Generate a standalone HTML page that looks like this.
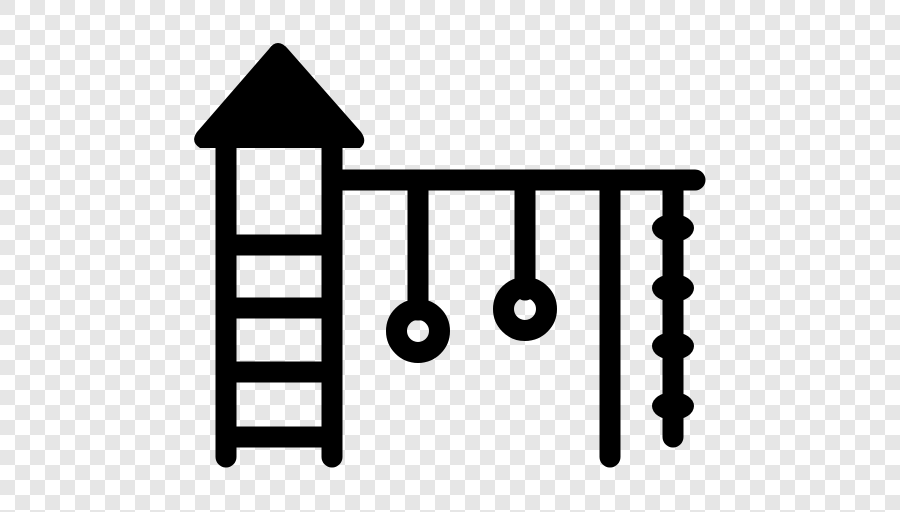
<!DOCTYPE html>
<html><head><meta charset="utf-8"><style>
html,body{margin:0;padding:0;width:900px;height:512px;overflow:hidden}
body{background-color:#fff;background-image:
linear-gradient(45deg,#e6e6e6 25%,transparent 25%,transparent 75%,#e6e6e6 75%),
linear-gradient(45deg,#e6e6e6 25%,transparent 25%,transparent 75%,#e6e6e6 75%);
background-size:30px 30px;background-position:15px 0,0 15px}
</style></head><body>
<svg width="900" height="512" viewBox="0 0 900 512" style="position:absolute;left:0;top:0">
<g stroke="#000" stroke-width="21" stroke-linecap="round" fill="none">
<line x1="226" y1="140" x2="226" y2="457"/>
<line x1="332" y1="140" x2="332" y2="457"/>
<line x1="332" y1="180" x2="695" y2="180"/>
<line x1="418" y1="180" x2="418" y2="310"/>
<line x1="525" y1="180" x2="525" y2="290"/>
<line x1="610" y1="180" x2="610" y2="457"/>
<line x1="673" y1="180" x2="673" y2="437"/>
</g>
<g stroke="#000" stroke-width="21" stroke-linecap="butt">
<line x1="226" y1="245" x2="332" y2="245"/>
<line x1="226" y1="308" x2="332" y2="308"/>
<line x1="226" y1="372" x2="332" y2="372"/>
<line x1="226" y1="437" x2="332" y2="437"/>
</g>
<path d="M278 43 Q283 43 288 49 L361 132 Q368 142 360 148 L200 148 Q190 142 197 132 L269 49 Q273 43 278 43 Z" fill="#000"/>
<circle cx="418" cy="331" r="21.5" fill="none" stroke="#000" stroke-width="21"/>
<circle cx="525" cy="309" r="21.5" fill="none" stroke="#000" stroke-width="21"/>
<g fill="#000">
<ellipse cx="673" cy="228" rx="21" ry="14"/>
<ellipse cx="673" cy="288" rx="21" ry="14"/>
<ellipse cx="673" cy="346" rx="21" ry="14"/>
<ellipse cx="673" cy="406" rx="21" ry="14"/>
</g>
</svg>
</body></html>
